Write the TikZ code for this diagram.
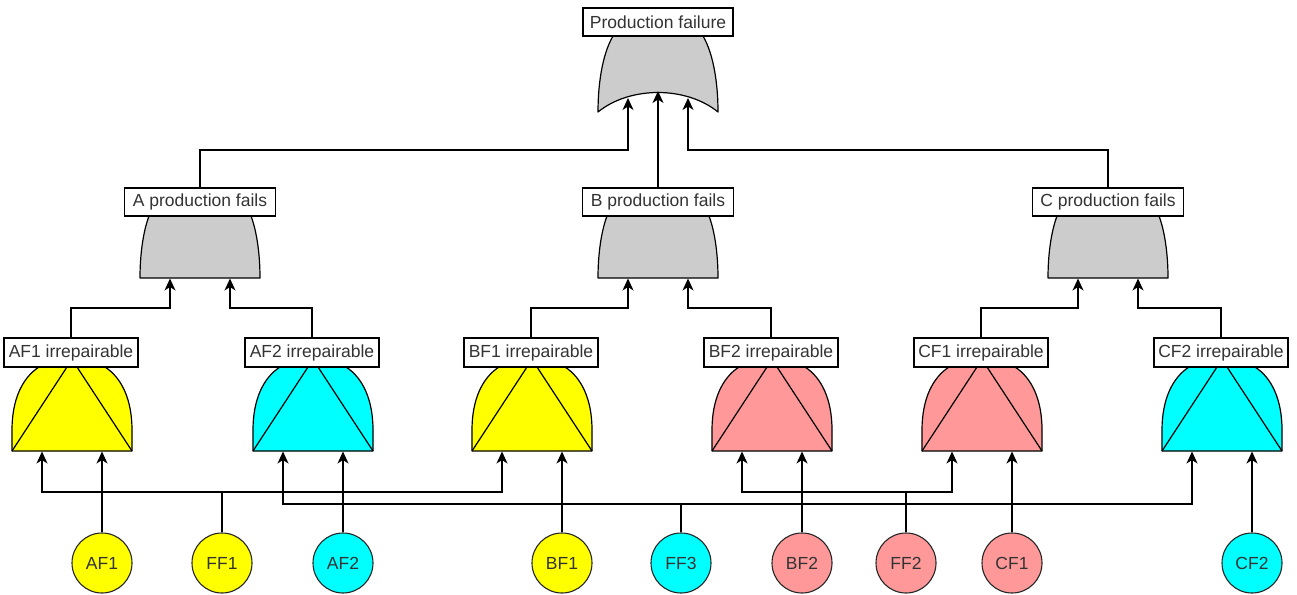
\documentclass[tikz,border=0pt]{standalone}
\usepackage{fontspec}
\setmainfont{Liberation Sans}
\usetikzlibrary{arrows.meta,calc}
\definecolor{cyel}{HTML}{FFFF00}
\definecolor{ccya}{HTML}{00FFFF}
\definecolor{cpin}{HTML}{FF9999}
\definecolor{cgry}{HTML}{CCCCCC}
\definecolor{ctxt}{HTML}{333333}
\newcommand{\fandgate}[1]{%
  \draw[gate,fill=cgry] (#1-51,216) .. controls (#1-57,232) and (#1-60,255) .. (#1-60,278)
    -- (#1+60,278) .. controls (#1+60,255) and (#1+57,232) .. (#1+51,216) -- cycle;}
\newcommand{\fpgate}[2]{%
  \draw[gate,fill=#2] (#1-60,451) -- (#1-60,430) .. controls (#1-60,400) and (#1-50,378) .. (#1-33,367)
    -- (#1+33,367) .. controls (#1+50,378) and (#1+60,400) .. (#1+60,430) -- (#1+60,451) -- cycle;
  \draw[gate] (#1-60,451) -- (#1-5,367) (#1+5,367) -- (#1+60,451);}
\begin{document}
\begin{tikzpicture}[x=1pt,y=-1pt,
  lbl/.style={draw=black,fill=white,line width=1.1pt,text=ctxt,font=\fontsize{17.5}{20}\selectfont,inner sep=0pt,minimum height=28pt},
  lbltop/.style={lbl,minimum width=150pt},
  lblmid/.style={lbl,minimum width=151pt},
  lblbot/.style={lbl,minimum width=134pt,minimum height=29pt},
  basic/.style={circle,draw=black!85,line width=1.1pt,minimum size=60pt,inner sep=0pt,text=ctxt,font=\fontsize{17.5}{20}\selectfont},
  gate/.style={draw=black,line width=1.2pt,line join=round},
  arr/.style={draw=black,line width=1.2pt,-{Stealth[length=12pt,width=11pt,inset=3.5pt]}}
]
\useasboundingbox (0,0) rectangle (1297,594);
% top OR gate
\draw[gate,fill=cgry] (613,36) .. controls (602,55) and (598,85) .. (598,112)
  .. controls (630,86) and (686,86) .. (718,112)
  .. controls (718,85) and (714,55) .. (703,36) -- cycle;
% level 2 AND gates
\fandgate{200}
\fandgate{658}
\fandgate{1108}
% level 3 gates
\fpgate{72}{cyel}
\fpgate{313}{ccya}
\fpgate{532}{cyel}
\fpgate{772}{cpin}
\fpgate{982}{cpin}
\fpgate{1222}{ccya}
% coordinates
\coordinate (o1) at (628,98);
\coordinate (o2) at (658,91);
\coordinate (o3) at (688,98);
\coordinate (aL) at (170,278.5); \coordinate (aR) at (230,278.5);
\coordinate (bL) at (628,278.5); \coordinate (bR) at (688,278.5);
\coordinate (cL) at (1078,278.5); \coordinate (cR) at (1138,278.5);
\coordinate (p1l) at (42,451.5);  \coordinate (p1r) at (102,451.5);
\coordinate (p2l) at (283,451.5); \coordinate (p2r) at (343,451.5);
\coordinate (p3l) at (502,451.5); \coordinate (p3r) at (562,451.5);
\coordinate (p4l) at (742,451.5); \coordinate (p4r) at (802,451.5);
\coordinate (p5l) at (952,451.5); \coordinate (p5r) at (1012,451.5);
\coordinate (p6l) at (1192,451.5); \coordinate (p6r) at (1252,451.5);
\coordinate (bust) at (0,150);
\coordinate (busm) at (0,308);
\coordinate (busa) at (0,492);
\coordinate (busb) at (0,504);
% labels
\node[lbltop] (lT) at (658,22) {Production failure};
\node[lblmid] (lA) at (200,202) {A production fails};
\node[lblmid] (lB) at (658,202) {B production fails};
\node[lblmid] (lC) at (1108,202) {C production fails};
\node[lblbot] (l1) at (71,352.5) {AF1 irrepairable};
\node[lblbot] (l2) at (312,352.5) {AF2 irrepairable};
\node[lblbot] (l3) at (531,352.5) {BF1 irrepairable};
\node[lblbot] (l4) at (771,352.5) {BF2 irrepairable};
\node[lblbot] (l5) at (981,352.5) {CF1 irrepairable};
\node[lblbot] (l6) at (1221,352.5) {CF2 irrepairable};
% basic events
\node[basic,fill=cyel] (af1) at (102,563) {AF1};
\node[basic,fill=cyel] (ff1) at (222,563) {FF1};
\node[basic,fill=ccya] (af2) at (343,563) {AF2};
\node[basic,fill=cyel] (bf1) at (562,563) {BF1};
\node[basic,fill=ccya] (ff3) at (681,563) {FF3};
\node[basic,fill=cpin] (bf2) at (802,563) {BF2};
\node[basic,fill=cpin] (ff2) at (906,563) {FF2};
\node[basic,fill=cpin] (cf1) at (1012,563) {CF1};
\node[basic,fill=ccya] (cf2) at (1252,563) {CF2};
% top connections
\draw[arr] (lA.north) -- (lA.north |- bust) -| (o1);
\draw[arr] (lB.north) -- (o2);
\draw[arr] (lC.north) -- (lC.north |- bust) -| (o3);
% level 2 connections
\draw[arr] (l1.north) -- (l1.north |- busm) -| (aL);
\draw[arr] (l2.north) -- (l2.north |- busm) -| (aR);
\draw[arr] (l3.north) -- (l3.north |- busm) -| (bL);
\draw[arr] (l4.north) -- (l4.north |- busm) -| (bR);
\draw[arr] (l5.north) -- (l5.north |- busm) -| (cL);
\draw[arr] (l6.north) -- (l6.north |- busm) -| (cR);
% basic event connections
\draw[arr] (af1.north) -- (p1r);
\draw[arr] (af2.north) -- (p2r);
\draw[arr] (bf1.north) -- (p3r);
\draw[arr] (bf2.north) -- (p4r);
\draw[arr] (cf1.north) -- (p5r);
\draw[arr] (cf2.north) -- (p6r);
\draw[arr] (ff1.north) -- (ff1.north |- busa) -| (p1l);
\draw[arr] (ff1.north) -- (ff1.north |- busa) -| (p3l);
\draw[arr] (ff3.north) -- (ff3.north |- busb) -| (p2l);
\draw[arr] (ff3.north) -- (ff3.north |- busb) -| (p6l);
\draw[arr] (ff2.north) -- (ff2.north |- busa) -| (p4l);
\draw[arr] (ff2.north) -- (ff2.north |- busa) -| (p5l);
\end{tikzpicture}
\end{document}
